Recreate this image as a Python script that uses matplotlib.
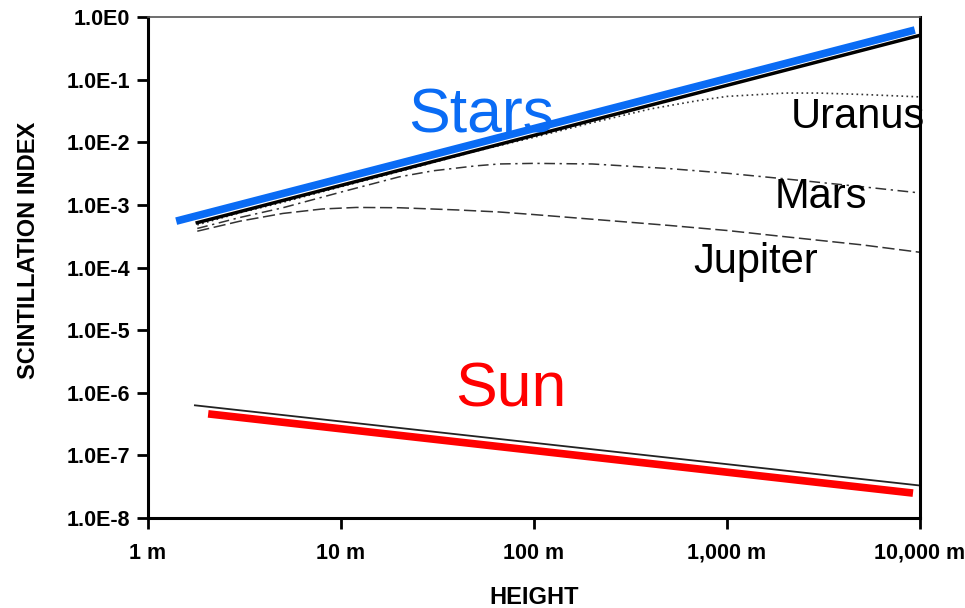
import matplotlib
matplotlib.use("Agg")
import matplotlib.pyplot as plt
import numpy as np

plt.rcParams['font.family'] = ['Liberation Sans', 'DejaVu Sans']

# Data (height in m, scintillation index)
stars_fit_x = [1.4, 9400]
stars_fit_y = [5.5e-4, 0.62]
stars_x = [1.8, 10000]
stars_y = [5.2e-4, 0.51]

uranus_x = [1.8, 3, 5, 10, 20, 50, 100, 200, 400, 700, 1000, 2000, 3000, 5000, 10000]
uranus_y = [4.8e-4, 7.5e-4, 1.1e-3, 1.95e-3, 3.4e-3, 7.2e-3, 1.2e-2, 2.05e-2, 3.4e-2, 4.6e-2, 5.4e-2, 6.1e-2, 6.1e-2, 5.8e-2, 5.3e-2]

mars_x = [1.8, 3, 5, 10, 20, 30, 50, 66, 100, 200, 500, 1000, 2000, 5000, 10000]
mars_y = [4.2e-4, 6.3e-4, 9e-4, 1.6e-3, 2.8e-3, 3.5e-3, 4.2e-3, 4.5e-3, 4.6e-3, 4.5e-3, 3.8e-3, 3.2e-3, 2.6e-3, 1.95e-3, 1.55e-3]

jupiter_x = [1.8, 3, 5, 8, 12, 20, 40, 66, 100, 200, 500, 1000, 2000, 5000, 10000]
jupiter_y = [3.8e-4, 5.5e-4, 7.3e-4, 8.6e-4, 9.1e-4, 9.0e-4, 8.3e-4, 7.7e-4, 7.0e-4, 5.9e-4, 4.7e-4, 3.9e-4, 3.1e-4, 2.3e-4, 1.75e-4]

sun_x = [1.75, 10000]
sun_y = [6.3e-7, 3.3e-8]
sun_fit_x = [2.05, 9200]
sun_fit_y = [4.6e-7, 2.5e-8]

xticks = [1, 10, 100, 1000, 10000]
xticklabels = ['1 m', '10 m', '100 m', '1,000 m', '10,000 m']
yticks = [1e0, 1e-1, 1e-2, 1e-3, 1e-4, 1e-5, 1e-6, 1e-7, 1e-8]
yticklabels = ['1.0E0', '1.0E-1', '1.0E-2', '1.0E-3', '1.0E-4', '1.0E-5', '1.0E-6', '1.0E-7', '1.0E-8']

fig = plt.figure(figsize=(9.65, 6.08), dpi=100)
ax = fig.add_axes([148/965, 1-518/608, 772/965, 501/608])
ax.set_xscale('log')
ax.set_yscale('log')
ax.set_xlim(1, 10000)
ax.set_ylim(1e-8, 1)

ax.plot(jupiter_x, jupiter_y, color='#333333', lw=1.1, ls=(0, (8, 3)))
ax.plot(mars_x, mars_y, color='#333333', lw=1.1, ls=(0, (7, 3, 1.5, 3)))
ax.plot(uranus_x, uranus_y, color='#333333', lw=1.2, ls=(0, (1, 2)))
ax.plot(stars_x, stars_y, color='black', lw=2.5)
ax.plot(stars_fit_x, stars_fit_y, color='#0A6CF5', lw=5.5, solid_capstyle='butt')
ax.plot(sun_x, sun_y, color='#222222', lw=1.3)
ax.plot(sun_fit_x, sun_fit_y, color='#FF0000', lw=5.5, solid_capstyle='butt')

ax.set_xticks(xticks)
ax.set_xticklabels(xticklabels, fontsize=15.5, fontweight='bold')
ax.set_yticks(yticks)
ax.set_yticklabels(yticklabels, fontsize=15.5, fontweight='bold')
ax.minorticks_off()
ax.tick_params(axis='both', direction='out', length=8, width=2, color='black')
ax.tick_params(axis='y', pad=5)
ax.tick_params(axis='x', pad=10)

for side in ['left', 'bottom', 'right']:
    ax.spines[side].set_linewidth(2.2)
    ax.spines[side].set_color('black')
ax.spines['top'].set_linewidth(1.2)
ax.spines['top'].set_color('#555555')

ax.set_xlabel('HEIGHT', fontsize=17, fontweight='bold', labelpad=16)
ax.set_ylabel('SCINTILLATION INDEX', fontsize=17, fontweight='bold')
ax.yaxis.set_label_coords(-0.1405, 0.535)

ax.text(0.337, 0.770, 'Stars', transform=ax.transAxes, color='#0A6CF5', fontsize=45, ha='left', va='baseline')
ax.text(0.398, 0.222, 'Sun', transform=ax.transAxes, color='#FF0000', fontsize=45, ha='left', va='baseline')
ax.text(0.832, 0.778, 'Uranus', transform=ax.transAxes, color='black', fontsize=30, ha='left', va='baseline')
ax.text(0.812, 0.619, 'Mars', transform=ax.transAxes, color='black', fontsize=30, ha='left', va='baseline')
ax.text(0.706, 0.489, 'Jupiter', transform=ax.transAxes, color='black', fontsize=30, ha='left', va='baseline')

fig.savefig('out.png', dpi=100)
